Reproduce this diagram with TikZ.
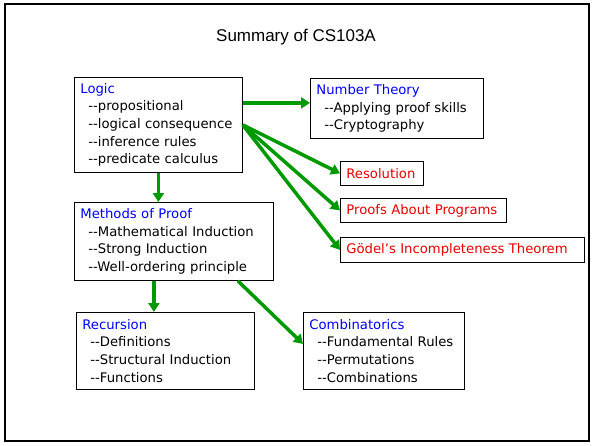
\documentclass[tikz,border=0pt]{standalone}
\usepackage{fontspec}
\setmainfont{DejaVu Sans}
\newfontfamily\titlefont{Liberation Sans}
\usetikzlibrary{arrows.meta}
\definecolor{arrowgreen}{RGB}{0,153,0}
\definecolor{headblue}{RGB}{0,0,255}
\definecolor{itemred}{RGB}{230,0,0}
\newcommand{\hd}[1]{\textcolor{headblue}{#1}}
\newcommand{\itm}[1]{\hspace*{8pt}-{}-#1}

\begin{document}
\begin{tikzpicture}[x=1pt, y=-1pt,
    topic/.style = {draw, anchor=north west, align=left, inner xsep=6pt, inner ysep=3pt,
                    font=\fontsize{13.2}{17.7}\selectfont, line width=0.8pt},
    result/.style = {topic, text=itemred},
    link/.style = {draw=arrowgreen, line width=3.5pt, -{Triangle[length=9pt,width=11pt]}}]
    \useasboundingbox (0,0) rectangle (592,445);
    \draw[line width=1.6pt] (5,4) rectangle (589,441);
    \node (title) at (296,37) {\titlefont\fontsize{17}{20}\selectfont Summary of CS103A};

    \node[topic, text width=156pt, minimum height=95pt] (logic) at (74,77)
        {\hd{Logic}\\ \itm{propositional}\\ \itm{logical consequence}\\ \itm{inference rules}\\ \itm{predicate calculus}};
    \node[topic, text width=161pt, minimum height=60pt] (number) at (310,78)
        {\hd{Number Theory}\\ \itm{Applying proof skills}\\ \itm{Cryptography}};
    \node[result, text width=71pt, minimum height=24pt] (resolution) at (340,161) {Resolution};
    \node[result, text width=154pt, minimum height=24pt] (programs) at (340,198) {Proofs About Programs};
    \node[result, text width=232pt, minimum height=25pt] (godel) at (340,237) {Gödel{\char"27}s Incompleteness Theorem};
    \node[topic, text width=187pt, minimum height=78pt] (methods) at (74,202)
        {\hd{Methods of Proof}\\ \itm{Mathematical Induction}\\ \itm{Strong Induction}\\ \itm{Well-ordering principle}};
    \node[topic, text width=166pt, minimum height=77pt] (recursion) at (76,312)
        {\hd{Recursion}\\ \itm{Definitions}\\ \itm{Structural Induction}\\ \itm{Functions}};
    \node[topic, text width=149pt, minimum height=77pt] (combin) at (303,312)
        {\hd{Combinatorics}\\ \itm{Fundamental Rules}\\ \itm{Permutations}\\ \itm{Combinations}};

    \draw[link] ([yshift=22pt]logic.east) -- ([yshift=22pt]logic.east -| number.west);
    \draw[link] (logic.east) -- (resolution.west);
    \draw[link] (logic.east) -- (programs.west);
    \draw[link] (logic.east) -- (godel.west);
    \draw[link] (logic.south) -- (logic.south |- methods.north);
    \draw[link] ([xshift=-20pt]methods.south) -- ([xshift=-20pt]methods.south |- recursion.north);
    \draw[link] ([xshift=-36pt]methods.south east) -- ([yshift=7pt]combin.west);
\end{tikzpicture}
\end{document}
